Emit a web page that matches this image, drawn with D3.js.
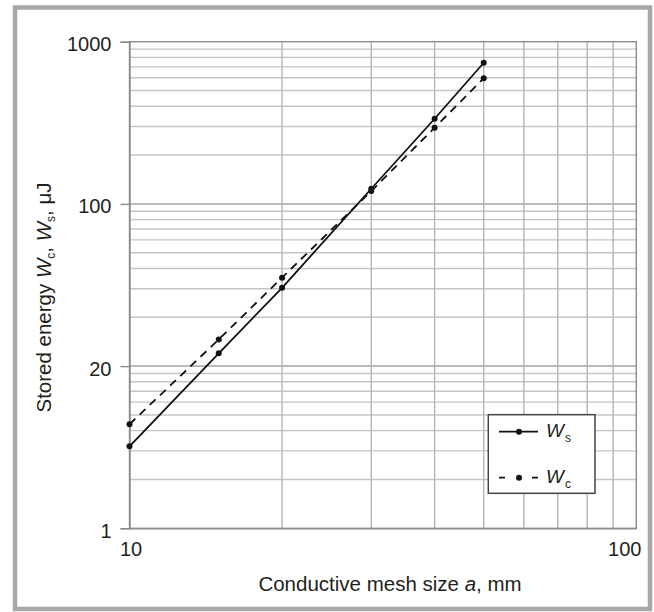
<!DOCTYPE html>
<html>
<head>
<meta charset="utf-8">
<script src="https://cdn.jsdelivr.net/npm/d3@7"></script>
<style>
  html, body { margin: 0; padding: 0; background: #ffffff; }
  svg { display: block; }
  text { font-family: "Liberation Sans", Arial, sans-serif; fill: #231f20; }
</style>
</head>
<body>
<script>
// ---- data ----
const meshSizes = [10, 15, 20, 30, 40, 50];
const wsValues = [3.2, 12.0, 30.4, 124, 335, 742];
const wcValues = [4.38, 14.6, 35.1, 120, 295, 595];
const xTickValues = [10, 100];
const xTickLabels = ["10", "100"];
const yTickValues = [1, 10, 100, 1000];
const yTickLabels = ["1", "20", "100", "1000"];
const xGridMinor = [20, 30, 40, 50, 60, 70, 80, 90];
const yGridMinor = [2, 3, 4, 5, 6, 7, 8, 9, 20, 30, 40, 50, 60, 70, 80, 90, 200, 300, 400, 500, 600, 700, 800, 900];
const yGridMajor = [10, 100];

const W = 654, H = 612;
const svg = d3.select("body").append("svg").attr("width", W).attr("height", H);

// outer frame
svg.append("rect").attr("x", 15).attr("y", 7.5).attr("width", 635).attr("height", 601.5)
  .attr("fill", "#ffffff").attr("stroke", "#a7a7a9").attr("stroke-width", 4.5);

const x = d3.scaleLog().domain([10, 100]).range([129.5, 636.3]);
const y = d3.scaleLog().domain([1, 1000]).range([528.3, 41.7]);

const g = svg.append("g");

// grid
g.selectAll("line.hgrid").data(yGridMinor).join("line")
  .attr("x1", x(10)).attr("x2", x(100))
  .attr("y1", d => y(d)).attr("y2", d => y(d))
  .attr("stroke", "#c4c4c4").attr("stroke-width", 1.4);
g.selectAll("line.hmaj").data(yGridMajor).join("line")
  .attr("x1", x(10)).attr("x2", x(100))
  .attr("y1", d => y(d)).attr("y2", d => y(d))
  .attr("stroke", "#a3a3a3").attr("stroke-width", 1.5);
g.selectAll("line.vgrid").data(xGridMinor).join("line")
  .attr("y1", y(1)).attr("y2", y(1000))
  .attr("x1", d => x(d)).attr("x2", d => x(d))
  .attr("stroke", "#b4b4b4").attr("stroke-width", 1.4);

// plot frame
g.append("rect").attr("x", x(10)).attr("y", y(1000))
  .attr("width", x(100) - x(10)).attr("height", y(1) - y(1000))
  .attr("fill", "none").attr("stroke", "#8c8c8c").attr("stroke-width", 1.4);

// axes
const yAxis = d3.axisLeft(y).tickValues(yTickValues)
  .tickFormat((d, i) => yTickLabels[i]).tickSize(9).tickPadding(9);
const ya = svg.append("g").attr("transform", `translate(${x(10)},0)`).call(yAxis);
ya.select(".domain").attr("stroke", "#8c8c8c").attr("stroke-width", 1.4);
ya.selectAll(".tick line").attr("stroke", "#8c8c8c").attr("stroke-width", 1.4);
ya.selectAll(".tick text").attr("font-size", 20).attr("dy", "0.45em")
  .style("font-family", '"Liberation Sans", Arial, sans-serif').attr("fill", "#231f20");

const xAxis = d3.axisBottom(x).tickValues(xTickValues)
  .tickFormat((d, i) => xTickLabels[i]).tickSize(0).tickPadding(14);
const xa = svg.append("g").attr("transform", `translate(0,${y(1)})`).call(xAxis);
xa.select(".domain").attr("stroke", "#8c8c8c").attr("stroke-width", 1.4);
xa.selectAll(".tick text").attr("font-size", 20)
  .style("font-family", '"Liberation Sans", Arial, sans-serif').attr("fill", "#231f20")
  .attr("dx", (d, i) => i === xTickValues.length - 1 ? -12 : 1);

// lines
const line = d3.line().x(d => x(d[0])).y(d => y(d[1]));
const wsData = meshSizes.map((m, i) => [m, wsValues[i]]);
const wcData = meshSizes.map((m, i) => [m, wcValues[i]]);

svg.append("path").datum(wcData).attr("d", line)
  .attr("fill", "none").attr("stroke", "#111").attr("stroke-width", 1.8)
  .attr("stroke-dasharray", "8,6");
svg.append("path").datum(wsData).attr("d", line)
  .attr("fill", "none").attr("stroke", "#111").attr("stroke-width", 1.8);

svg.selectAll("circle.wc").data(wcData).join("circle")
  .attr("cx", d => x(d[0])).attr("cy", d => y(d[1])).attr("r", 3).attr("fill", "#111");
svg.selectAll("circle.ws").data(wsData).join("circle")
  .attr("cx", d => x(d[0])).attr("cy", d => y(d[1])).attr("r", 3).attr("fill", "#111");

// legend
const lg = svg.append("g");
lg.append("rect").attr("x", 488.3).attr("y", 414.7).attr("width", 106.7).attr("height", 78.6)
  .attr("fill", "#ffffff").attr("stroke", "#444").attr("stroke-width", 1.5);
lg.append("line").attr("x1", 499).attr("x2", 538).attr("y1", 431.7).attr("y2", 431.7)
  .attr("stroke", "#111").attr("stroke-width", 1.8);
lg.append("circle").attr("cx", 519).attr("cy", 431.7).attr("r", 3).attr("fill", "#111");
lg.append("line").attr("x1", 499).attr("x2", 538).attr("y1", 477.7).attr("y2", 477.7)
  .attr("stroke", "#111").attr("stroke-width", 1.8).attr("stroke-dasharray", "6,27,6");
lg.append("circle").attr("cx", 519).attr("cy", 477.7).attr("r", 3).attr("fill", "#111");

const legendItems = [["W", "s", 437], ["W", "c", 483.3]];
legendItems.forEach(([main, sub, by]) => {
  const t = lg.append("text").attr("x", 546).attr("y", by).attr("font-size", 19);
  t.append("tspan").attr("font-style", "italic").text(main);
  t.append("tspan").attr("font-size", 12).attr("dx", 1).attr("dy", 5).text(sub);
});

// axis titles
const xt = svg.append("text").attr("x", 390).attr("y", 591).attr("text-anchor", "middle").attr("font-size", 20.5);
xt.append("tspan").text("Conductive mesh size ");
xt.append("tspan").attr("font-style", "italic").text("a");
xt.append("tspan").text(", mm");

const yt = svg.append("text").attr("transform", "translate(51,297.5) rotate(-90)")
  .attr("text-anchor", "middle").attr("font-size", 20.5);
yt.append("tspan").text("Stored energy ");
yt.append("tspan").attr("font-style", "italic").text("W");
yt.append("tspan").attr("font-size", 12).attr("dy", 4).text("c");
yt.append("tspan").attr("dy", -4).text(", ");
yt.append("tspan").attr("font-style", "italic").text("W");
yt.append("tspan").attr("font-size", 12).attr("dy", 4).text("s");
yt.append("tspan").attr("dy", -4).text(", μJ");
</script>
</body>
</html>
